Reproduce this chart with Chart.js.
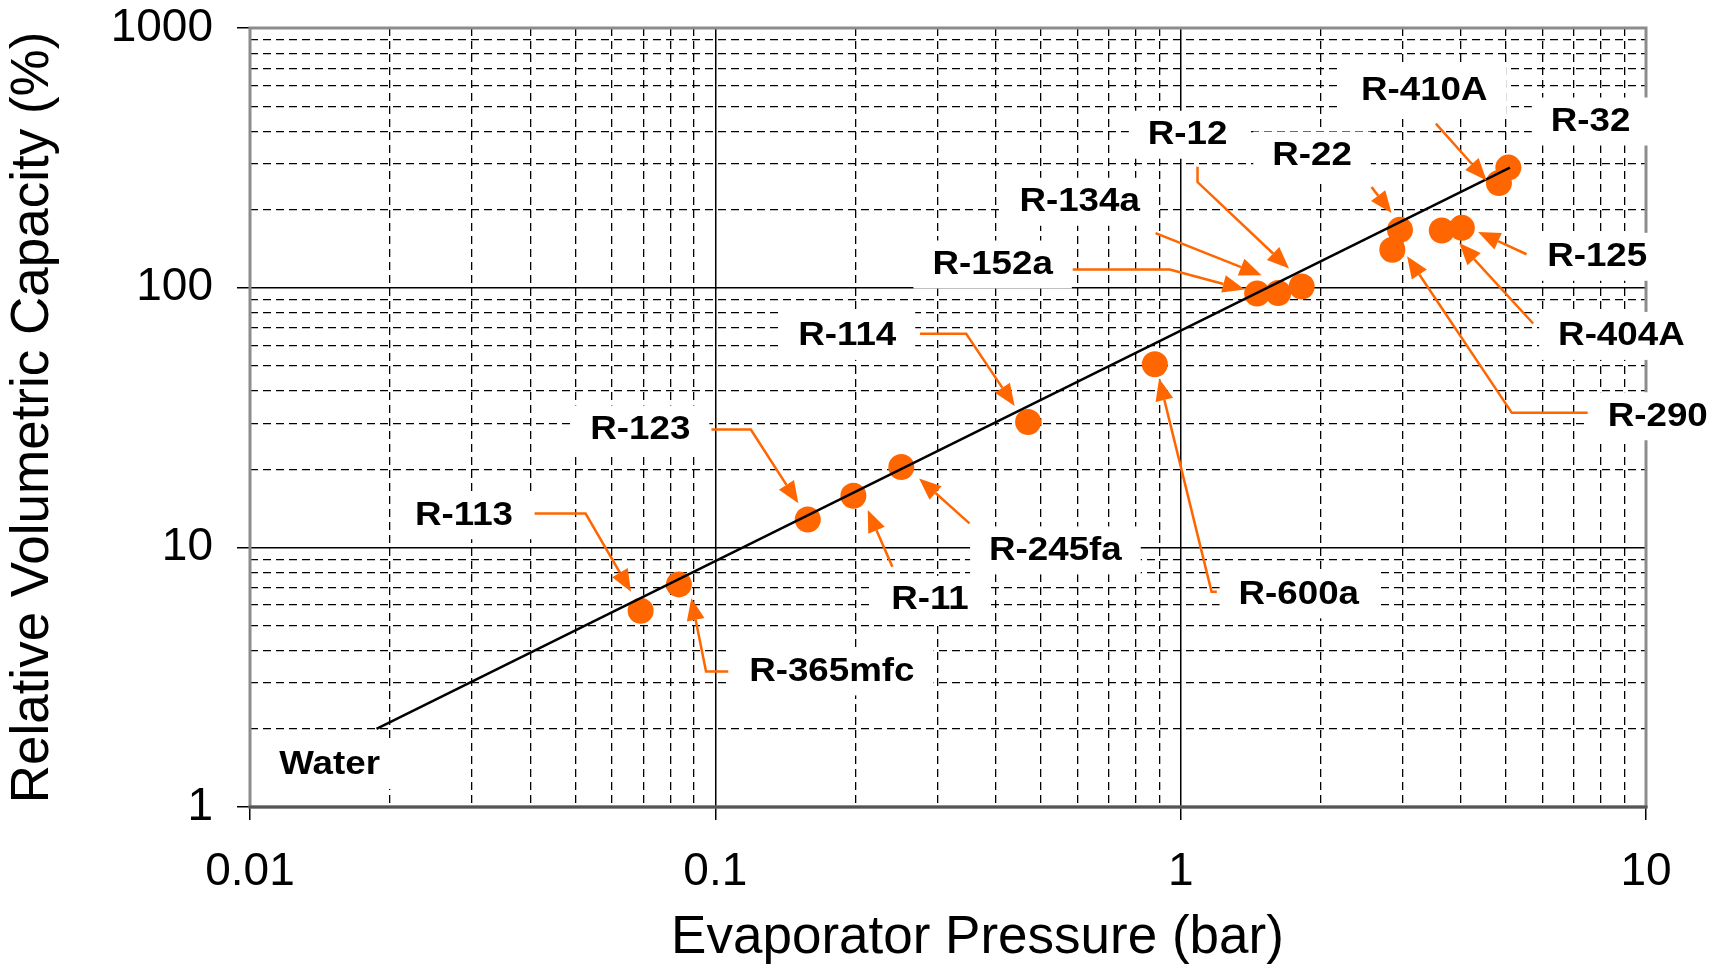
<!DOCTYPE html>
<html>
<head>
<meta charset="utf-8">
<title>Relative Volumetric Capacity vs Evaporator Pressure</title>
<script src="https://cdn.jsdelivr.net/npm/chart.js"></script>
<style>
    html, body { margin: 0; padding: 0; background: #fff; overflow: hidden; }
    canvas { display: block; }
</style>
</head>
<body>
<canvas id="capacityChart" width="1726" height="969"></canvas>
<script>
// values
const refrigerants = ['R-113', 'R-365mfc', 'R-123', 'R-11', 'R-245fa', 'R-114', 'R-600a', 'R-152a',
    'R-134a', 'R-12', 'R-22', 'R-290', 'R-404A', 'R-125', 'R-410A', 'R-32'];
const pressure = [0.0691, 0.0835, 0.158, 0.198, 0.251, 0.470, 0.880, 1.46,
    1.62, 1.82, 2.96, 2.85, 3.64, 4.02, 4.83, 5.06];
const capacity = [5.70, 7.2, 12.8, 15.8, 20.4, 30.4, 50.7, 94.9,
    95.4, 101, 167, 140, 166, 170, 253, 290];
const trendPressure = [0.0187, 5.1];
const trendCapacity = [2.0, 290];
const xDecades = [0.01, 0.1, 1, 10];
const xTickLabels = ['0.01', '0.1', '1', '10'];
const yDecades = [1, 10, 100, 1000];
const yTickLabels = ['1', '10', '100', '1000'];

// callout placement (data units): label centre + leader line ending at the arrow tip
const callouts = [
    { text: 'Water', at: [0.01483, 1.452], path: [] },
    { text: 'R-113', at: [0.02884, 13.29], path: [[0.04089, 13.49], [0.05263, 13.49], [0.06588, 6.75]] },
    { text: 'R-365mfc', at: [0.1780, 3.327], path: [[0.1066, 3.322], [0.0955, 3.322], [0.0888, 6.366]] },
    { text: 'R-123', at: [0.0690, 28.44], path: [[0.0981, 28.44], [0.1192, 28.44], [0.1508, 14.77]] },
    { text: 'R-11', at: [0.2892, 6.276], path: [[0.2401, 8.42], [0.2126, 13.92]] },
    { text: 'R-245fa', at: [0.5381, 9.73], path: [[0.3517, 12.37], [0.2741, 18.43]] },
    { text: 'R-114', at: [0.1921, 65.2], path: [[0.2753, 66.46], [0.3460, 66.46], [0.4398, 34.98]] },
    { text: 'R-600a', at: [1.794, 6.59], path: [[1.196, 6.75], [1.165, 6.75], [0.8987, 44.7]] },
    { text: 'R-152a', at: [0.3944, 122.8], path: [[0.5861, 117.4], [0.9476, 117.4], [1.373, 98.3]] },
    { text: 'R-134a', at: [0.6065, 214.2], path: [[0.8831, 162.3], [1.492, 111.6]] },
    { text: 'R-12', at: [1.035, 388.1], path: [[1.087, 292.4], [1.087, 255.1], [1.710, 118.4]] },
    { text: 'R-22', at: [1.916, 322.6], path: [[2.571, 244.1], [2.839, 193.8]] },
    { text: 'R-410A', at: [3.338, 573.3], path: [[3.535, 428.0], [4.544, 258.9]] },
    { text: 'R-32', at: [7.602, 436.4], path: [] },
    { text: 'R-125', at: [7.855, 131.5], path: [[5.537, 134.5], [4.358, 163.8]] },
    { text: 'R-404A', at: [8.853, 65.2], path: [[5.721, 72.76], [3.968, 148.6]] },
    { text: 'R-290', at: [10.60, 31.98], path: [[7.494, 32.95], [5.149, 32.95], [3.066, 132.1]] },
];

const ORANGE = '#ff6600';
const FONT = '"Liberation Sans", Arial, Helvetica, sans-serif';
Chart.defaults.font.family = FONT;
Chart.defaults.color = '#000';

function logSteps(min, max) {
    const out = [];
    for (let d = min; d < max * 0.999; d *= 10) {
        for (let m = 1; m < 10; m++) out.push(Number((m * d).toPrecision(4)));
    }
    out.push(max);
    return out;
}

function decadeIndex(decades, value) {
    return decades.findIndex(d => Math.abs(d - value) / d < 1e-6);
}

function gridOptions(decades) {
    return {
        color: '#000',
        lineWidth: ctx => decadeIndex(decades, ctx.tick.value) >= 0 ? 1.5 : 1.3,
        tickColor: ctx => decadeIndex(decades, ctx.tick.value) >= 0 ? '#000' : 'rgba(0,0,0,0)',
        tickWidth: 1.5,
        tickLength: 13,
    };
}

function borderOptions(decades) {
    return {
        display: false,
        dash: ctx => (ctx.tick && decadeIndex(decades, ctx.tick.value) < 0) ? [8, 5] : [],
    };
}

const calloutPlugin = {
    id: 'callouts',
    beforeDatasetsDraw(chart) {
        const { ctx, chartArea: a } = chart;
        ctx.save();
        ctx.lineWidth = 3;
        ctx.strokeStyle = '#8c8c8c';
        ctx.strokeRect(a.left, a.top, a.right - a.left, a.bottom - a.top);
        ctx.strokeStyle = '#555';
        ctx.beginPath();
        ctx.moveTo(a.left - 1.5, a.bottom);
        ctx.lineTo(a.right + 1.5, a.bottom);
        ctx.stroke();
        ctx.restore();
    },
    afterDatasetsDraw(chart) {
        const { ctx, scales: { x, y } } = chart;
        const stretch = 1.08;
        ctx.save();
        ctx.font = 'bold 34px ' + FONT;
        ctx.textAlign = 'center';
        ctx.textBaseline = 'middle';

        const items = callouts.map(c => ({
            c,
            px: x.getPixelForValue(c.at[0]),
            py: y.getPixelForValue(c.at[1]),
            w: ctx.measureText(c.text).width * stretch,
            pts: c.path.map(p => [x.getPixelForValue(p[0]), y.getPixelForValue(p[1])]),
        }));

        // white label boxes hide the grid underneath
        ctx.fillStyle = '#fff';
        items.forEach(it => ctx.fillRect(it.px - it.w / 2 - 19, it.py - 24, it.w + 38, 48));

        // leader lines with filled arrow heads
        ctx.strokeStyle = ORANGE;
        ctx.fillStyle = ORANGE;
        ctx.lineWidth = 2.5;
        items.forEach(it => {
            const pts = it.pts;
            if (pts.length < 2) return;
            const [tx, ty] = pts[pts.length - 1];
            const [fx, fy] = pts[pts.length - 2];
            const ang = Math.atan2(ty - fy, tx - fx);
            const len = 22, half = 9;
            const bx = tx - Math.cos(ang) * len, by = ty - Math.sin(ang) * len;
            ctx.beginPath();
            ctx.moveTo(pts[0][0], pts[0][1]);
            for (let i = 1; i < pts.length - 1; i++) ctx.lineTo(pts[i][0], pts[i][1]);
            ctx.lineTo(bx, by);
            ctx.stroke();
            ctx.beginPath();
            ctx.moveTo(tx, ty);
            ctx.lineTo(bx + Math.sin(ang) * half, by - Math.cos(ang) * half);
            ctx.lineTo(bx - Math.sin(ang) * half, by + Math.cos(ang) * half);
            ctx.closePath();
            ctx.fill();
        });

        ctx.fillStyle = '#000';
        items.forEach(it => {
            ctx.save();
            ctx.translate(it.px, it.py);
            ctx.scale(stretch, 1);
            ctx.fillText(it.c.text, 0, 0);
            ctx.restore();
        });
        ctx.restore();
    }
};

new Chart(document.getElementById('capacityChart'), {
    type: 'scatter',
    data: {
        datasets: [
            {
                label: 'Trend',
                data: trendPressure.map((p, i) => ({ x: p, y: trendCapacity[i] })),
                showLine: true,
                borderColor: '#000',
                borderWidth: 2.5,
                pointRadius: 0,
            },
            {
                label: 'Refrigerants',
                data: pressure.map((p, i) => ({ x: p, y: capacity[i], name: refrigerants[i] })),
                backgroundColor: ORANGE,
                borderWidth: 0,
                pointRadius: 13,
                pointHoverRadius: 13,
            }
        ]
    },
    options: {
        responsive: false,
        animation: false,
        events: [],
        layout: { padding: { left: 0, top: 28, right: 80, bottom: 0 } },
        plugins: {
            legend: { display: false },
            tooltip: { enabled: false },
        },
        scales: {
            x: {
                type: 'logarithmic',
                min: 0.01,
                max: 10,
                afterBuildTicks: scale => { scale.ticks = logSteps(0.01, 10).map(value => ({ value })); },
                afterFit: scale => { scale.height = 162; },
                grid: gridOptions(xDecades),
                border: borderOptions(xDecades),
                ticks: {
                    autoSkip: false,
                    maxRotation: 0,
                    padding: 25,
                    font: { size: 46 },
                    callback: value => {
                        const i = decadeIndex(xDecades, value);
                        return i >= 0 ? xTickLabels[i] : '';
                    }
                },
                title: {
                    display: true,
                    // leading no-break spaces nudge the title right, as in the original
                    text: '\u00a0\u00a0\u00a0\u00a0Evaporator Pressure (bar)',
                    font: { size: 53, lineHeight: 1 },
                    padding: { top: 0, bottom: 4 },
                }
            },
            y: {
                type: 'logarithmic',
                min: 1,
                max: 1000,
                afterBuildTicks: scale => { scale.ticks = logSteps(1, 1000).map(value => ({ value })); },
                afterFit: scale => {
                    scale.width = 250;
                    // the label overhang should not push the plot area down
                    scale.paddingTop = 0;
                    scale.paddingBottom = 0;
                },
                grid: gridOptions(yDecades),
                border: borderOptions(yDecades),
                ticks: {
                    autoSkip: false,
                    padding: 24,
                    font: { size: 46 },
                    callback: value => {
                        const i = decadeIndex(yDecades, value);
                        return i >= 0 ? yTickLabels[i] : '';
                    }
                },
                title: {
                    display: true,
                    text: 'Relative Volumetric Capacity (%)',
                    font: { size: 53, lineHeight: 1 },
                    padding: { top: 7, bottom: 0 },
                }
            }
        }
    },
    plugins: [calloutPlugin]
});
</script>
</body>
</html>
